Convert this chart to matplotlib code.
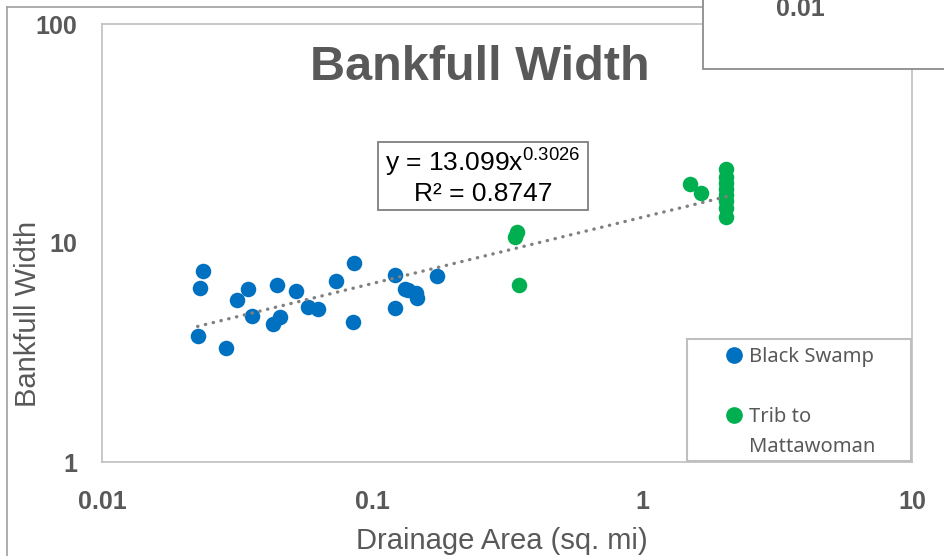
import matplotlib
matplotlib.use("Agg")
import matplotlib.pyplot as plt
import numpy as np
from matplotlib.lines import Line2D
from matplotlib.patches import Rectangle

plt.rcParams['font.family'] = ['Liberation Sans', 'DejaVu Sans']
plt.rcParams['mathtext.fontset'] = 'custom'
plt.rcParams['mathtext.rm'] = 'Liberation Sans'
plt.rcParams['mathtext.default'] = 'regular'

# drainage area (sq. mi) vs bankfull width (ft)
black_swamp_area = [0.0237, 0.0231, 0.0226, 0.0288, 0.0316, 0.0346, 0.0358, 0.0446,
                    0.0429, 0.0456, 0.0523, 0.0581, 0.0630, 0.0736, 0.0860, 0.0848,
                    0.1216, 0.1219, 0.1325, 0.1363, 0.1455, 0.1463, 0.1745]
black_swamp_width = [7.42, 6.22, 3.75, 3.32, 5.47, 6.14, 4.63, 6.40,
                     4.28, 4.58, 6.01, 5.10, 4.99, 6.70, 8.12, 4.38,
                     7.16, 5.03, 6.14, 6.08, 5.91, 5.63, 7.06]

trib_area = [0.339, 0.344, 0.350, 1.506, 1.650,
             2.05, 2.05, 2.05, 2.05, 2.05, 2.05, 2.05, 2.05]
trib_width = [10.7, 11.2, 6.40, 18.5, 16.9,
              21.85, 20.1, 18.7, 17.7, 16.6, 15.5, 14.5, 13.1]

# power fit reported for the combined data
fit_coef = 13.099
fit_exp = 0.3026
fit_r2 = 0.8747

x_ticks = [0.01, 0.1, 1, 10]
x_tick_labels = ['0.01', '0.1', '1', '10']
y_ticks = [1, 10, 100]
y_tick_labels = ['1', '10', '100']

blue = '#0070C0'
green = '#00B050'
text_gray = '#595959'

fig = plt.figure(figsize=(9.45, 5.56), dpi=100)
ax = fig.add_axes([102 / 945, 1 - 462 / 556, 810 / 945, 438 / 556])

ax.scatter(black_swamp_area, black_swamp_width, s=125, color=blue, linewidths=0, zorder=3)
ax.scatter(trib_area, trib_width, s=125, color=green, linewidths=0, zorder=3)

all_area = np.array(black_swamp_area + trib_area)
xs = np.logspace(np.log10(all_area.min()), np.log10(all_area.max()), 100)
ax.plot(xs, fit_coef * xs ** fit_exp, color='#808080', lw=2.4,
        linestyle=(0, (0.1, 2.3)), dash_capstyle='round', zorder=4)

ax.set_xscale('log')
ax.set_yscale('log')
ax.set_xlim(0.01, 10)
ax.set_ylim(1, 100)
ax.set_xticks(x_ticks)
ax.set_xticklabels(x_tick_labels)
ax.set_yticks(y_ticks)
ax.set_yticklabels(y_tick_labels)
ax.minorticks_off()
ax.tick_params(axis='both', length=0, labelsize=18, labelcolor=text_gray)
ax.tick_params(axis='x', pad=20)
ax.tick_params(axis='y', pad=18)
for lab in ax.get_xticklabels() + ax.get_yticklabels():
    lab.set_fontweight('bold')
for sp in ax.spines.values():
    sp.set_color('#bfbfbf')
    sp.set_linewidth(1.2)

ax.set_xlabel('Drainage Area (sq. mi)', fontsize=21, color=text_gray)
ax.xaxis.set_label_coords((502 - 102) / 810, -(541 - 462) / 438)
ax.xaxis.label.set_va('center')
ax.set_ylabel('Bankfull Width', fontsize=21, color=text_gray)
ax.yaxis.set_label_coords(-(102 - 28) / 810, (462 - 314) / 438)
ax.yaxis.label.set_va('center')

ax.text((480 - 102) / 810, (462 - 67) / 438, 'Bankfull Width', transform=ax.transAxes,
        ha='center', va='center', fontsize=35, fontweight='bold', color=text_gray)

# fit equation in a framed box
eq = 'y = %.3fx$^{%.4f}$\nR² = %.4f' % (fit_coef, fit_exp, fit_r2)
ax.add_patch(Rectangle(((378 - 102) / 810, (462 - 210) / 438), 210 / 810, 68 / 438,
                       transform=ax.transAxes, facecolor='white', edgecolor='#7f7f7f',
                       lw=1.3, zorder=5))
ax.text((483 - 102) / 810, (462 - 176) / 438, eq, transform=ax.transAxes,
        ha='center', va='center', multialignment='center', fontsize=19,
        linespacing=1.15, color='black', zorder=6)

# legend: blank row keeps the gap between the two site entries
handles = [Line2D([], [], ls='none', marker='o', ms=11, mfc=blue, mec=blue),
           Line2D([], [], ls='none'),
           Line2D([], [], ls='none', marker='o', ms=11, mfc=green, mec=green),
           Line2D([], [], ls='none')]
labels = ['Black Swamp', '', 'Trib to', 'Mattawoman']
leg = ax.legend(handles, labels, loc='upper left', bbox_to_anchor=(0.768, 0.262),
                frameon=False, borderpad=0, borderaxespad=0, handlelength=1.0,
                handletextpad=0.25, labelspacing=0.5,
                prop={'family': 'Noto Sans', 'size': 14.5})
for t in leg.get_texts():
    t.set_color(text_gray)
ax.add_patch(Rectangle(((687 - 102) / 810, 0.002), (911 - 687) / 810, (462 - 340) / 438,
                       transform=ax.transAxes, fill=False, edgecolor='#bfbfbf', lw=1.5,
                       clip_on=False, zorder=5))

# surrounding frame and the box overlapping the top right corner
fig.add_artist(Line2D([7 / 945, 7 / 945], [0, 1 - 7 / 556], color='#a0a0a0', lw=1.2))
fig.add_artist(Line2D([7 / 945, 703 / 945], [1 - 7 / 556, 1 - 7 / 556], color='#a0a0a0', lw=1.2))
fig.add_artist(Rectangle((703 / 945, 1 - 69 / 556), 0.3, 0.2, facecolor='white',
                         edgecolor='#8c8c8c', lw=1.3, zorder=10))
fig.text(800 / 945, 1 - 9 / 556, '0.01', ha='center', va='center', fontsize=18,
         fontweight='bold', color=text_gray, zorder=11)

fig.savefig('out.png', dpi=100)
